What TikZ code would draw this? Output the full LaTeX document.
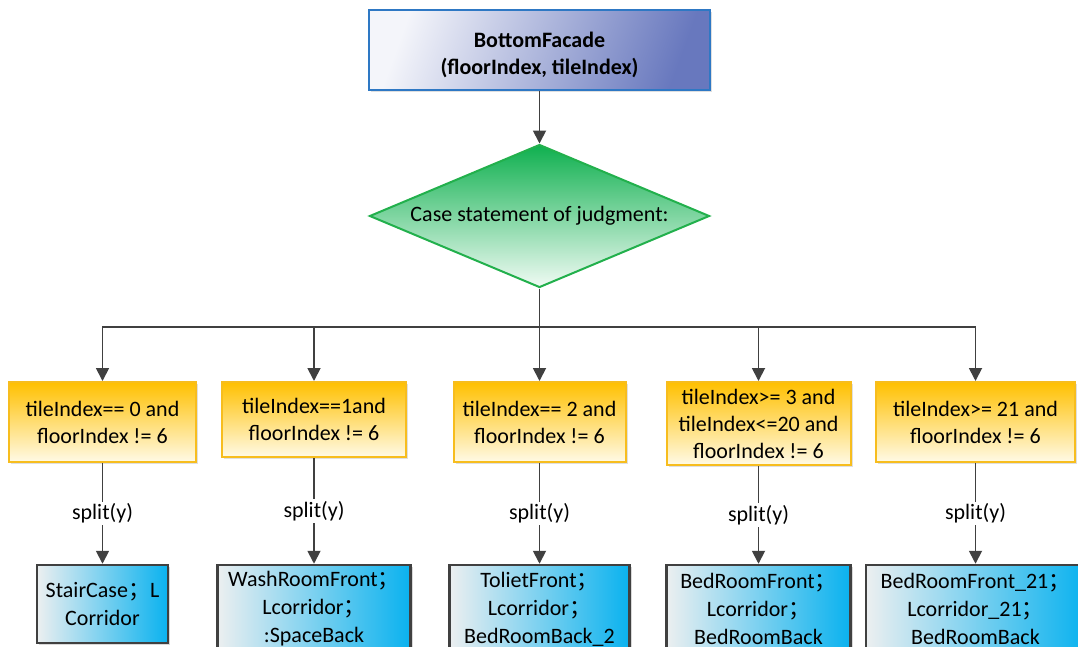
\documentclass[tikz,border=0pt]{standalone}
\usepackage{fontspec}
\setmainfont{Carlito}
\newfontfamily\cjkfont{Noto Sans CJK SC}
\usetikzlibrary{shapes.geometric,arrows.meta,shadows}
\newcommand\fsemi{{\cjkfont ；}}
\definecolor{topborder}{HTML}{2E78C4}
\definecolor{topleft}{HTML}{F4F5FA}
\definecolor{topright}{HTML}{6878BE}
\definecolor{grnborder}{HTML}{22B04C}
\definecolor{grntop}{HTML}{0FB04F}
\definecolor{grnbot}{HTML}{F0FBF4}
\definecolor{orgborder}{HTML}{F7BD1E}
\definecolor{orgtop}{HTML}{FFC000}
\definecolor{orgbot}{HTML}{FFFAE6}
\definecolor{bluleft}{HTML}{ECEFF0}
\definecolor{bluright}{HTML}{0AB2EF}
\definecolor{linegray}{HTML}{404040}
\tikzset{
  topbox/.style={draw=topborder, line width=2pt, left color=topleft, right color=topright,
    shading angle=70,
    minimum width=341, minimum height=80, inner sep=0pt, align=center,
    font=\bfseries\fontsize{22}{27}\selectfont,
    drop shadow={opacity=0.25, shadow xshift=2pt, shadow yshift=-2pt}},
  judge/.style={diamond, draw=grnborder, line width=2pt, top color=grntop, bottom color=grnbot,
    minimum width=340, minimum height=143, aspect=2.38, inner sep=0pt,
    font=\fontsize{22}{27}\selectfont},
  condbox/.style={draw=orgborder, line width=2pt, top color=orgtop, bottom color=orgbot,
    inner sep=0pt, align=center, font=\fontsize{22}{27}\selectfont,
    drop shadow={opacity=0.25, shadow xshift=2pt, shadow yshift=-2pt}},
  resbox/.style={draw=linegray, line width=2.5pt, left color=bluleft, right color=bluright,
    inner sep=0pt, align=center, font=\fontsize{22}{28}\selectfont,
    drop shadow={opacity=0.3, shadow xshift=2pt, shadow yshift=-2pt}},
  ln/.style={draw=linegray, line width=1.8pt},
  arr/.style={draw=linegray, line width=1.8pt, -{Triangle[length=13pt,width=13pt]}},
  lbl/.style={fill=white, inner sep=2pt, font=\fontsize{22}{27}\selectfont}
}
\begin{document}
\begin{tikzpicture}[x=1pt,y=-1pt]
\useasboundingbox (0,0) rectangle (1078,646);
\clip (0,0) rectangle (1078,646);

\node[topbox] (top) at (539.5,50) {\rule{0pt}{26pt}BottomFacade\\(floorIndex, tileIndex)};
\node[judge] (dia) at (539.5,216) {Case statement of judgment:};

\node[condbox, minimum width=187, minimum height=80] (o1) at (102.5,422) {tileIndex== 0 and\\floorIndex != 6};
\node[condbox, minimum width=184, minimum height=75] (o2) at (314,419.5) {tileIndex==1and\\floorIndex != 6};
\node[condbox, minimum width=172, minimum height=80] (o3) at (539.5,422) {tileIndex== 2 and\\floorIndex != 6};
\node[condbox, minimum width=184, minimum height=83] (o4) at (758.5,423.5) {tileIndex>= 3 and\\tileIndex<=20 and\\floorIndex != 6};
\node[condbox, minimum width=199, minimum height=80] (o5) at (975.5,422) {tileIndex>= 21 and\\floorIndex != 6};

\node[resbox, minimum width=131, minimum height=78] (b1) at (102.5,604) {StairCase\fsemi L\\Corridor};
\node[resbox, minimum width=193, minimum height=88] (b2) at (314,609) {WashRoomFront\fsemi\\Lcorridor\fsemi\\:SpaceBack};
\node[resbox, minimum width=180, minimum height=88] (b3) at (539.5,609) {TolietFront\fsemi\\Lcorridor\fsemi\\BedRoomBack\_2};
\node[resbox, minimum width=184, minimum height=88] (b4) at (758.5,609) {BedRoomFront\fsemi\\Lcorridor\fsemi\\BedRoomBack};
\node[resbox, minimum width=219, minimum height=88] (b5) at (975.5,609) {BedRoomFront\_21\fsemi\\Lcorridor\_21\fsemi\\BedRoomBack};

\coordinate (bus) at (539.5,327);
\draw[arr] (top) -- (dia);
\draw[ln] (dia.south) -- (bus);
\foreach \i in {1,...,5} {
  \draw[arr] (bus) -| (o\i.north);
  \draw[arr] (o\i.south) -- node[lbl] {split(y)} (b\i.north);
}
\end{tikzpicture}
\end{document}
